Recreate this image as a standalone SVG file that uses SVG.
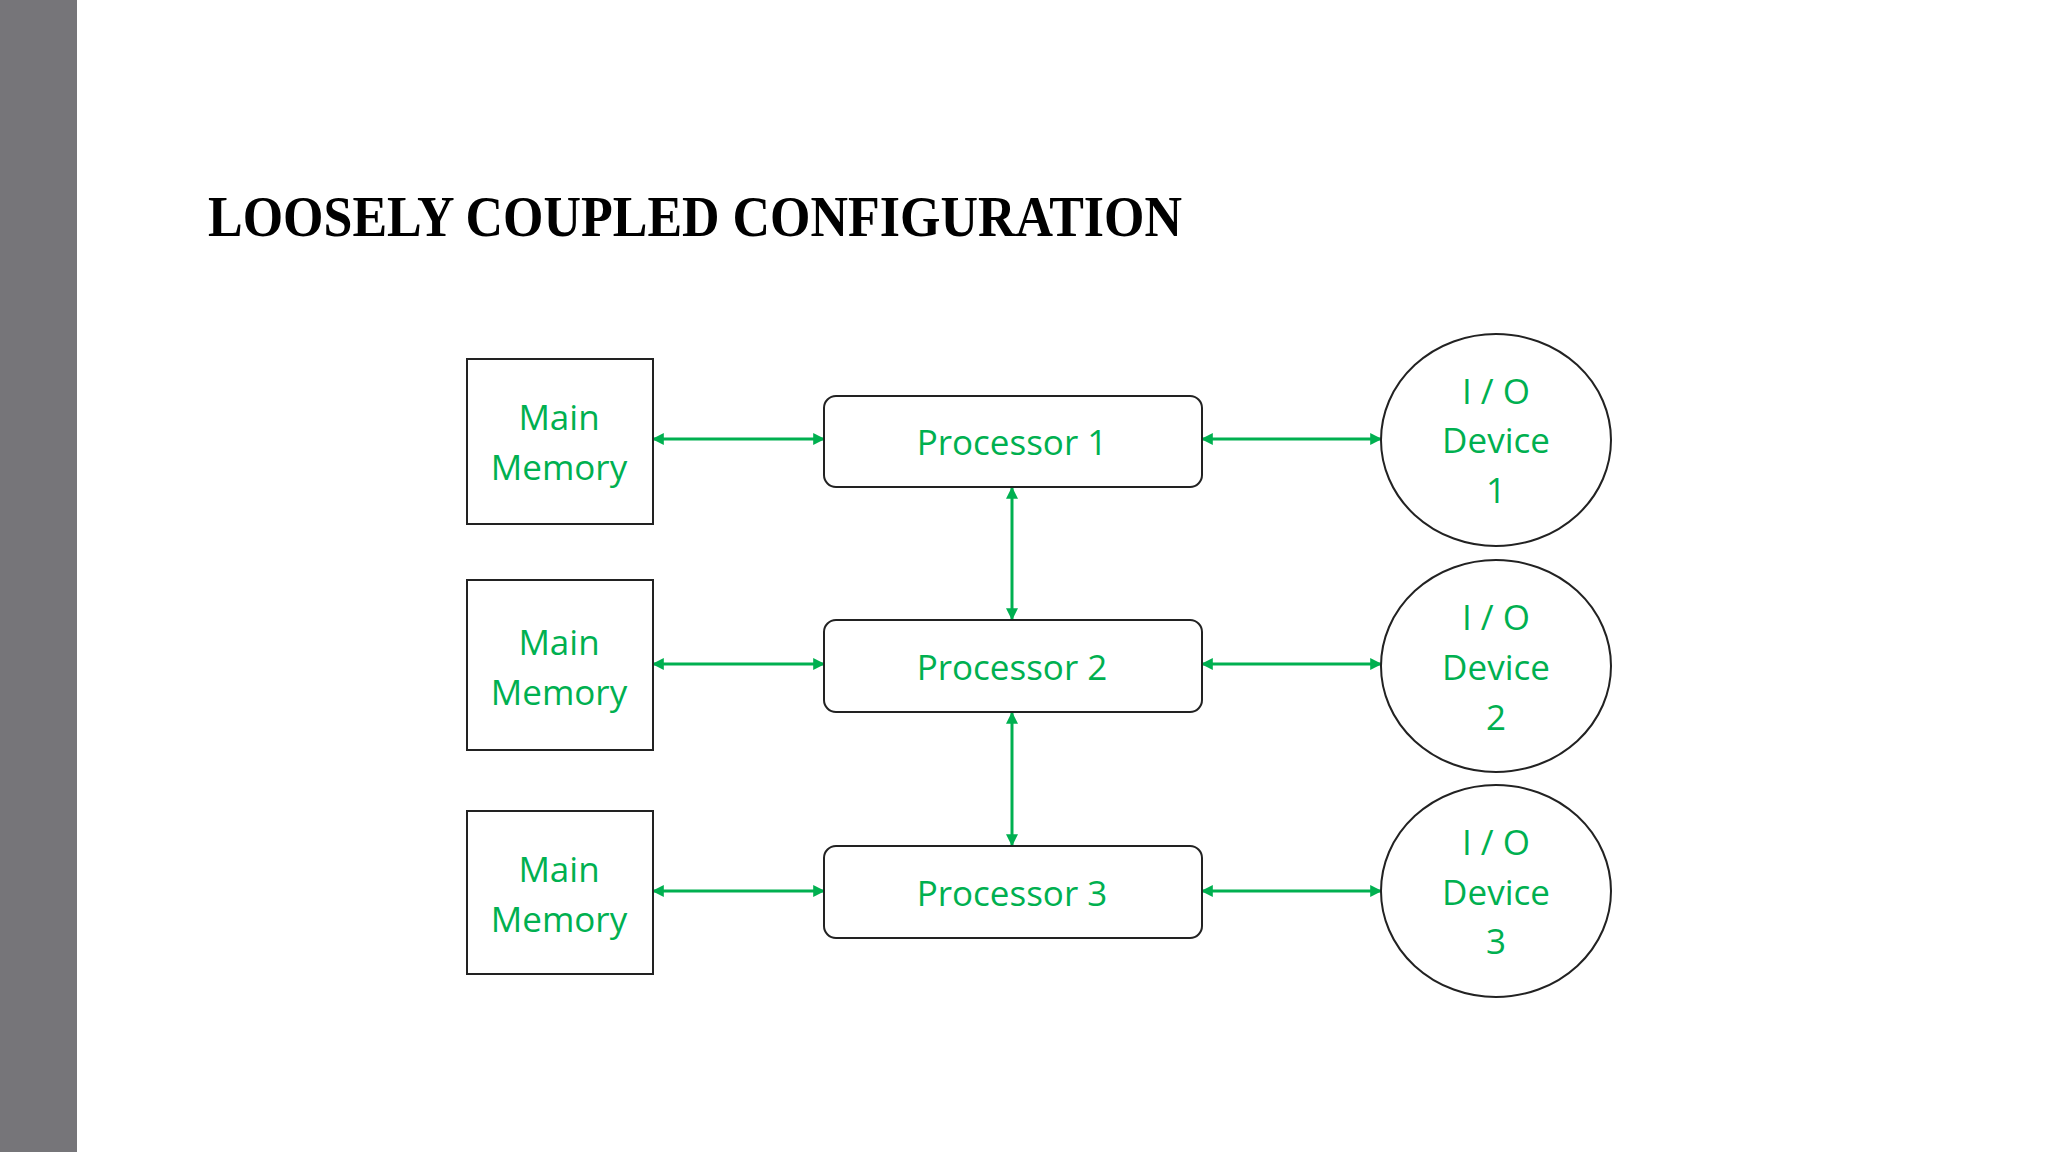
<svg xmlns="http://www.w3.org/2000/svg" width="2048" height="1152" viewBox="0 0 2048 1152">
<defs>
<marker id="ah" viewBox="0 0 10 10" refX="9" refY="5" markerWidth="4" markerHeight="4" orient="auto-start-reverse"><path d="M0,0 L10,5 L0,10 z" fill="#00B050"/></marker>
<style>
.box{fill:#fff;stroke:#222;stroke-width:2}
.t{font-family:"Open Sans","Noto Sans",sans-serif;font-size:35px;fill:#00B050;text-anchor:middle}
.c{stroke:#00B050;stroke-width:3;fill:none;marker-start:url(#ah);marker-end:url(#ah)}
</style>
</defs>
<rect width="2048" height="1152" fill="#fff"/>
<rect x="0" y="0" width="77" height="1152" fill="#767579"/>
<text x="208" y="236" font-family="Liberation Serif,serif" font-weight="bold" font-size="56" textLength="974" lengthAdjust="spacingAndGlyphs" fill="#000">LOOSELY COUPLED CONFIGURATION</text>
<g id="connectors">
<line class="c" x1="653" y1="439" x2="824" y2="439"/>
<line class="c" x1="653" y1="664" x2="824" y2="664"/>
<line class="c" x1="653" y1="891" x2="824" y2="891"/>
<line class="c" x1="1202" y1="439" x2="1381" y2="439"/>
<line class="c" x1="1202" y1="664" x2="1381" y2="664"/>
<line class="c" x1="1202" y1="891" x2="1381" y2="891"/>
<line class="c" x1="1012" y1="488" x2="1012" y2="619"/>
<line class="c" x1="1012" y1="713" x2="1012" y2="845"/>
</g>
<g id="mem1"><rect class="box" x="467" y="359" width="186" height="165"/><text class="t" x="559" y="430">Main</text><text class="t" x="559" y="480">Memory</text></g>
<g id="mem2"><rect class="box" x="467" y="580" width="186" height="170"/><text class="t" x="559" y="655">Main</text><text class="t" x="559" y="705">Memory</text></g>
<g id="mem3"><rect class="box" x="467" y="811" width="186" height="163"/><text class="t" x="559" y="882">Main</text><text class="t" x="559" y="932">Memory</text></g>
<g id="proc1"><rect class="box" x="824" y="396" width="378" height="91" rx="12"/><text class="t" x="1012" y="455">Processor 1</text></g>
<g id="proc2"><rect class="box" x="824" y="620" width="378" height="92" rx="12"/><text class="t" x="1012" y="680">Processor 2</text></g>
<g id="proc3"><rect class="box" x="824" y="846" width="378" height="92" rx="12"/><text class="t" x="1012" y="906">Processor 3</text></g>
<g id="io1"><ellipse class="box" cx="1496" cy="440" rx="115" ry="106"/><text class="t" x="1496" y="404">I / O</text><text class="t" x="1496" y="453">Device</text><text class="t" x="1496" y="503">1</text></g>
<g id="io2"><ellipse class="box" cx="1496" cy="666" rx="115" ry="106"/><text class="t" x="1496" y="630">I / O</text><text class="t" x="1496" y="680">Device</text><text class="t" x="1496" y="730">2</text></g>
<g id="io3"><ellipse class="box" cx="1496" cy="891" rx="115" ry="106"/><text class="t" x="1496" y="855">I / O</text><text class="t" x="1496" y="905">Device</text><text class="t" x="1496" y="954">3</text></g>
</svg>
